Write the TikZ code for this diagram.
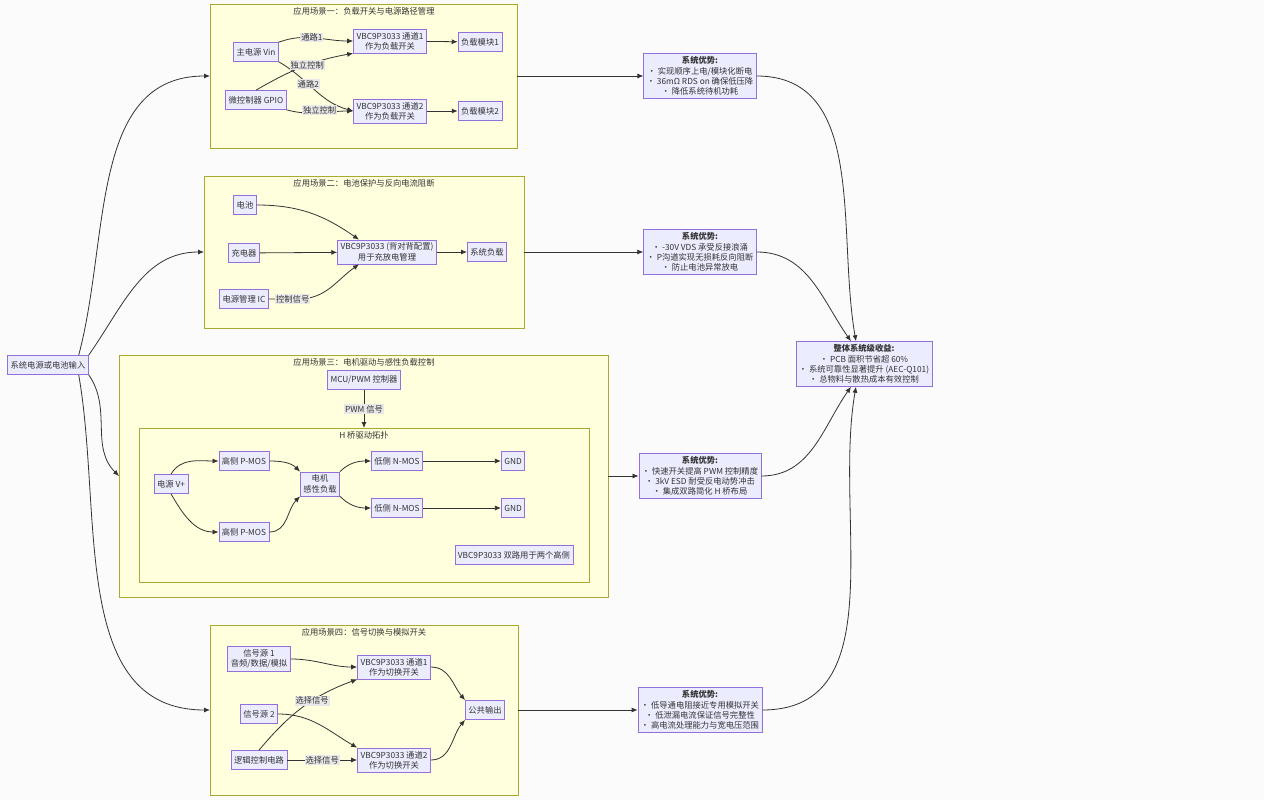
\documentclass[tikz,border=0pt]{standalone}
\usepackage{fontspec}
\setmainfont{Noto Sans CJK SC}
\usetikzlibrary{arrows.meta}
\definecolor{nfill}{HTML}{ECECFF}
\definecolor{nbord}{HTML}{9370DB}
\definecolor{cfill}{HTML}{FFFFDE}
\definecolor{cbord}{HTML}{AAAA33}
\definecolor{edge}{HTML}{333333}
\definecolor{lbg}{HTML}{E8E8E8}
\begin{document}
\begin{tikzpicture}[x=1pt,y=-1pt,
  every node/.style={font=\fontsize{8.3pt}{10.3pt}\selectfont, text=edge},
  box/.style={draw=nbord, fill=nfill, line width=0.7pt, align=center, inner sep=3pt, minimum height=19pt},
  clus/.style={draw=cbord, fill=cfill, line width=0.7pt},
  lab/.style={fill=lbg, inner sep=1pt},
  ar/.style={draw=edge, line width=0.8pt, -{Latex[length=6pt,width=5pt]}},
  ln/.style={draw=edge, line width=0.8pt}]
\fill[white!97!gray] (0,0) rectangle (1264,800);
\useasboundingbox (0,0) rectangle (1264,800);
% clusters
\draw[clus] (210,4) rectangle (517,148);
\node at (364,11) {应用场景一：负载开关与电源路径管理};
\draw[clus] (204,176) rectangle (524,328);
\node at (364,183) {应用场景二：电池保护与反向电流阻断};
\draw[clus] (119,355) rectangle (608,597);
\node at (364,362) {应用场景三：电机驱动与感性负载控制};
\draw[clus] (139,428) rectangle (589,582);
\node at (364,435) {H 桥驱动拓扑};
\draw[clus] (210,625) rectangle (518,795);
\node at (364,632) {应用场景四：信号切换与模拟开关};
\coordinate (c1l) at (210,76); \coordinate (c1r) at (517,76);
\coordinate (c2l) at (204,252); \coordinate (c2r) at (524,252);
\coordinate (c3l) at (119,476); \coordinate (c3r) at (608,476);
\coordinate (c3t) at (364,428);
\coordinate (c4l) at (210,710); \coordinate (c4r) at (518,710);
% nodes
\node[box] (in) at (48,365) {系统电源或电池输入};
\node[box] (vin) at (256,52) {主电源 Vin};
\node[box] (gpio) at (256,100) {微控制器 GPIO};
\node[box] (s1) at (390,41) {VBC9P3033 通道1\\作为负载开关};
\node[box] (s2) at (390,111) {VBC9P3033 通道2\\作为负载开关};
\node[box] (l1) at (480,42) {负载模块1};
\node[box] (l2) at (480,111) {负载模块2};
\node[box] (bat) at (245,205) {电池};
\node[box] (chg) at (244,253) {充电器};
\node[box] (pmic) at (244,299) {电源管理 IC};
\node[box] (bb) at (387,252) {VBC9P3033 (背对背配置)\\用于充放电管理};
\node[box] (sys) at (487,252) {系统负载};
\node[box] (mcu) at (364,380) {MCU/PWM 控制器};
\node[box] (vp) at (171,484) {电源 V+};
\node[box] (h1) at (244,461) {高侧 P-MOS};
\node[box] (h2) at (244,532) {高侧 P-MOS};
\node[box] (mot) at (320,484) {电机\\感性负载};
\node[box] (n1) at (397,461) {低侧 N-MOS};
\node[box] (n2) at (397,508) {低侧 N-MOS};
\node[box] (g1) at (513,461) {GND};
\node[box] (g2) at (513,508) {GND};
\node[box] (note) at (514,555) {VBC9P3033 双路用于两个高侧};
\node[box] (src1) at (259,659) {信号源 1\\音频/数据/模拟};
\node[box] (src2) at (259,714) {信号源 2};
\node[box] (logic) at (259,760) {逻辑控制电路};
\node[box] (w1) at (394,667) {VBC9P3033 通道1\\作为切换开关};
\node[box] (w2) at (394,760) {VBC9P3033 通道2\\作为切换开关};
\node[box] (out) at (485,710) {公共输出};
\node[box] (b1) at (700,76) {\textbf{系统优势:}\\• 实现顺序上电/模块化断电\\• 36mΩ RDS on 确保低压降\\• 降低系统待机功耗};
\node[box] (b2) at (700,252) {\textbf{系统优势:}\\• -30V VDS 承受反接浪涌\\• P沟道实现无损耗反向阻断\\• 防止电池异常放电};
\node[box] (b3) at (700,476) {\textbf{系统优势:}\\• 快速开关提高 PWM 控制精度\\• 3kV ESD 耐受反电动势冲击\\• 集成双路简化 H 桥布局};
\node[box] (b4) at (700,710) {\textbf{系统优势:}\\• 低导通电阻接近专用模拟开关\\• 低泄漏电流保证信号完整性\\• 高电流处理能力与宽电压范围};
\node[box] (all) at (864,364) {\textbf{整体系统级收益:}\\• PCB 面积节省超 60\%\\• 系统可靠性显著提升 (AEC-Q101)\\• 总物料与散热成本有效控制};
% input edges
\draw[ar] ([xshift=-10pt]in.north east) to[out=75,in=180] (c1l);
\draw[ar] (in.north east) to[out=55,in=180] (c2l);
\draw[ar] (in.south east) to[out=-55,in=135] (c3l);
\draw[ar] ([xshift=-10pt]in.south east) to[out=-80,in=180] (c4l);
% cluster to benefit
\draw[ar] (c1r) -- (b1);
\draw[ar] (c2r) -- (b2);
\draw[ar] (c3r) -- (b3);
\draw[ar] (c4r) -- (b4);
\draw[ar] (b1.east) to[out=0,in=100] ([xshift=-8pt]all.north);
\draw[ar] (b2.east) to[out=0,in=125] ([xshift=-13pt]all.north);
\draw[ar] (b3.east) to[out=0,in=-125] ([xshift=-13pt]all.south);
\draw[ar] (b4.east) to[out=0,in=-100] ([xshift=-8pt]all.south);
% scenario 1
\draw[ar] (vin.north east) to[out=20,in=180] node[lab,pos=0.45]{通路1} (s1.west);
\draw[ar] (vin.south east) to[out=-30,in=165] node[lab,pos=0.4]{通路2} (s2.west);
\draw[ar] (gpio.north) to[out=30,in=190] node[lab,pos=0.55]{独立控制} (s1.south west);
\draw[ar] (gpio.south east) to[out=-15,in=180] node[lab,pos=0.5,yshift=3pt]{独立控制} (s2.west);
\draw[ar] (s1) -- (l1);
\draw[ar] (s2) -- (l2);
% scenario 2
\draw[ar] (bat.east) to[out=0,in=145] ([xshift=-28pt]bb.north);
\draw[ar] (chg) -- (bb);
\draw[ar] (pmic.east) -- node[lab,pos=0.2,anchor=west]{控制信号} ++(30,0) to[out=0,in=-145] ([xshift=-28pt]bb.south);
\draw[ar] (bb) -- (sys);
% scenario 3
\draw[ar] (mcu) -- node[lab]{PWM 信号} (c3t);
\draw[ar] (vp.north) to[out=60,in=180] (h1.west);
\draw[ar] (vp.south) to[out=-60,in=180] (h2.west);
\draw[ar] (h1.east) to[out=0,in=135] (mot.north west);
\draw[ar] (h2.east) to[out=0,in=-135] (mot.south west);
\draw[ar] (mot.north east) to[out=45,in=180] (n1.west);
\draw[ar] (mot.south east) to[out=-45,in=180] (n2.west);
\draw[ar] (n1) -- (g1);
\draw[ar] (n2) -- (g2);
% scenario 4
\draw[ar] (src1.east) to[out=0,in=180] (w1.west);
\draw[ar] (src2.east) to[out=0,in=150] (w2.north west);
\draw[ar] (logic.north) to[out=50,in=200] node[lab,pos=0.6]{选择信号} (w1.south west);
\draw[ar] (logic) -- node[lab]{选择信号} (w2);
\draw[ar] (w1.east) to[out=0,in=130] (out.north west);
\draw[ar] (w2.east) to[out=0,in=-130] (out.south west);
\end{tikzpicture}
\end{document}
